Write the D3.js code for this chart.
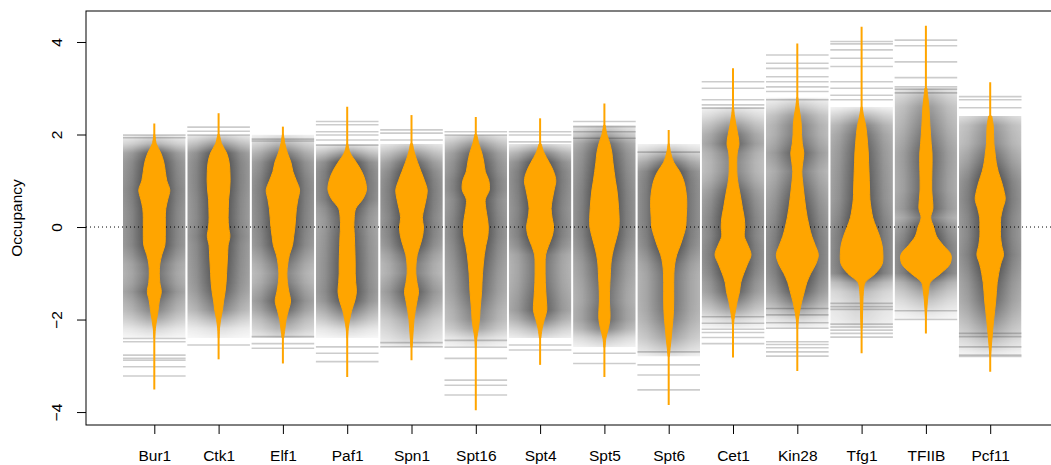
<!DOCTYPE html>
<html lang="en">
<head>
<meta charset="UTF-8">
<script src="https://cdn.jsdelivr.net/npm/d3@7"></script>
<title>Occupancy beanplot</title>
<style>
  body { margin: 0; background: #fff; }
  svg { display: block; font-family: "Liberation Sans", Arial, sans-serif; }
</style>
</head>
<body>
<svg width="1051" height="465"></svg>
<script>
// categories on the x axis
const categories = ['Bur1', 'Ctk1', 'Elf1', 'Paf1', 'Spn1', 'Spt16', 'Spt4', 'Spt5', 'Spt6', 'Cet1', 'Kin28', 'Tfg1', 'TFIIB', 'Pcf11'];
const yTicks = [-4, -2, 0, 2, 4];
const overallMean = 0;

// density of each bean, sampled every 0.2 from densityStart upwards
const gridStep = 0.2;
const densityStart = [-2.4, -2.4, -2.4, -2.4, -2.6, -2.6, -2.4, -2.6, -2.8, -2.2, -2.2, -2.2, -2.0, -2.8];
const densBur1  = [0.3, 1, 2.3, 3.8, 5, 7, 5.5, 5, 5.5, 7.5, 10.5, 11, 11, 11, 11.5, 13.5, 15.5, 12.5, 11, 9.5, 6.5, 2, 0.5];
const densCtk1  = [0.3, 0.8, 2, 3.8, 5, 6.5, 7.5, 8, 8.5, 9, 9.5, 11.3, 10, 9.5, 9.7, 10, 11, 11.5, 11.3, 10.5, 8, 3, 0.8];
const densElf1  = [0.8, 2, 3.2, 5.5, 7.7, 6, 4.5, 4, 4.8, 6.5, 9.5, 10.8, 12, 12.7, 13.5, 15, 16.7, 13.5, 10, 8, 4.5, 2, 0.5];
const densPaf1  = [0.3, 1, 2.5, 4.5, 7.5, 9.2, 8.5, 8, 8, 7.8, 7.5, 7.2, 6.7, 7, 8.5, 15.5, 19.2, 18, 14.5, 9, 3, 0.5];
const densSpn1  = [0.5, 1.2, 1.8, 2.5, 3.8, 5.5, 7, 5.5, 4.3, 4.5, 5.7, 8.5, 11, 12, 10.8, 12.5, 14.5, 15.7, 13, 9.5, 6, 3, 1];
const densSpt16 = [0.4, 1, 2.5, 3.7, 4.2, 5, 5.8, 6.2, 6.7, 7.5, 8.5, 10, 12, 12.5, 11.5, 10, 9.5, 13.5, 13, 9.5, 8, 6, 3, 1];
const densSpt4  = [0.7, 2, 4.2, 6.7, 6.3, 5.7, 5.2, 5, 5, 5.5, 8.5, 12, 13.5, 12, 11, 12.2, 14, 15.7, 13.5, 9, 4, 1];
const densSpt5  = [0.5, 1.5, 3.8, 5.5, 5.5, 5, 5.1, 5.5, 6, 6.5, 7.8, 10, 12.5, 14.5, 14.7, 14.2, 13.5, 12.5, 11, 9.7, 8.5, 7.5, 5.5, 2.5, 0.8];
const densSpt6  = [0.6, 1.5, 2.5, 3.3, 4.2, 4.8, 5, 5, 5, 5.2, 6, 8, 11.5, 14.5, 17, 17.5, 18, 18, 17, 15, 11, 5, 2, 0.5];
const densCet1  = [0.3, 1, 2.5, 4.2, 6.5, 7.8, 10.8, 14.5, 18, 15, 11.3, 11.8, 11.2, 9.5, 8, 6.3, 4.6, 3.8, 3.7, 4.2, 6, 4.8, 3, 1.5, 0.5];
const densKin28 = [0.3, 1, 2.5, 4.5, 7, 9.5, 13.5, 18.5, 21, 18, 14.5, 12, 10, 8.5, 7.3, 6.2, 5.2, 4.5, 5.5, 6.5, 5, 4.2, 4, 3, 1.5, 0.5];
const densTfg1  = [0.4, 0.8, 1, 1.3, 1.8, 3.5, 14, 20.5, 21.3, 20.5, 18, 14.5, 11.2, 9.5, 8.3, 8, 7.7, 7.4, 7, 6.7, 6, 5.2, 4, 2, 0.5];
const densTFIIB = [0.3, 0.8, 1.5, 2.5, 4.3, 15, 24, 25, 17.5, 10.6, 7.8, 4.8, 7, 6.5, 5.8, 5.8, 6, 6.2, 6.1, 5.3, 4.6, 4, 3.5, 3, 2, 1];
const densPcf11 = [0.3, 1, 1.8, 2.6, 3.5, 4.5, 5.5, 6.2, 7, 8.5, 10.5, 13.3, 11.5, 10.3, 10.3, 10.5, 12.5, 15, 13.5, 11, 8, 6, 4.8, 3.7, 3.4, 3, 1.5];
const beanDensity = [densBur1, densCtk1, densElf1, densPaf1, densSpn1, densSpt16, densSpt4, densSpt5, densSpt6, densCet1, densKin28, densTfg1, densTFIIB, densPcf11];

// range of each group
const dataMin = [-3.51, -2.86, -2.95, -3.24, -2.88, -3.96, -2.98, -3.24, -3.85, -2.82, -3.11, -2.73, -2.30, -3.13];
const dataMax = [2.24, 2.46, 2.17, 2.60, 2.42, 2.38, 2.35, 2.67, 2.10, 3.43, 3.97, 4.33, 4.35, 3.13];

// single observations out in the tails
const tailBur1  = [1.99, 1.93, -2.41, -2.48, -2.77, -2.84, -2.88, -3.02, -3.22];
const tailCtk1  = [2.16, 2.07, 1.99, -2.55];
const tailElf1  = [1.9, 1.86, -2.37, -2.52, -2.62];
const tailPaf1  = [2.28, 2.21, 2.06, 1.99, 1.88, 1.77, -2.59, -2.73, -2.91];
const tailSpn1  = [2.10, 2.03, 1.88, -2.5, -2.59];
const tailSpt16 = [2.06, 1.99, -2.45, -2.6, -2.84, -3.31, -3.42, -3.63];
const tailSpt4  = [2.06, 1.99, 1.84, -2.55, -2.66];
const tailSpt5  = [2.28, 2.17, 2.06, 1.92, -2.73, -2.95];
const tailSpt6  = [1.62, -2.7, -2.98, -3.2, -3.52];
const tailCet1  = [3.14, 3.0, 2.75, 2.64, 2.57, -1.94, -2.08, -2.21, -2.28, -2.39, -2.52];
const tailKin28 = [3.72, 3.54, 3.43, 3.25, 3.14, 3.03, 2.93, 2.75, -1.76, -1.90, -2.07, -2.19, -2.48, -2.54, -2.61, -2.70, -2.79];
const tailTfg1  = [4.01, 3.96, 3.83, 3.65, 3.47, 3.14, 3.0, 2.85, 2.75, -1.65, -1.72, -1.78, -2.10, -2.16, -2.23, -2.30, -2.38];
const tailTFIIB = [4.04, 3.92, 3.57, 3.23, 3.03, 2.98, 2.90, -1.81, -2.0];
const tailPcf11 = [2.82, 2.75, 2.58, -2.30, -2.37, -2.59, -2.77, -2.80];
const tailLines = [tailBur1, tailCtk1, tailElf1, tailPaf1, tailSpn1, tailSpt16, tailSpt4, tailSpt5, tailSpt6, tailCet1, tailKin28, tailTfg1, tailTFIIB, tailPcf11];

const svg = d3.select('svg');
const box = { left: 86, top: 11, right: 1058, bottom: 425 };
const fontSize = '15.5px';

const x = d3.scalePoint().domain(categories).range([154.3, 990.2]);
const y = d3.scaleLinear().domain([-4.28, 4.67]).range([box.bottom, box.top]);
const half = x.step() * 0.487;          // beanline half length
const w = d3.scaleLinear().domain([0, 26]).range([0, 26]);

// overall line
svg.append('line')
  .attr('x1', box.left).attr('x2', box.right)
  .attr('y1', y(overallMean)).attr('y2', y(overallMean))
  .attr('stroke', '#000').attr('stroke-dasharray', '1,3');

const defs = svg.append('defs');

// beanlines fade towards the ends of the bean
const fade = defs.append('linearGradient').attr('id', 'hfade')
  .attr('x1', 0).attr('x2', 1).attr('y1', 0).attr('y2', 0);
[[0, '#8c8c8c'], [0.15, '#a8a8a8'], [0.3, '#d8d8d8'], [0.4, '#f8f8f8'], [0.5, '#fff'],
 [0.6, '#f8f8f8'], [0.7, '#d8d8d8'], [0.85, '#a8a8a8'], [1, '#8c8c8c']].forEach(s => {
  fade.append('stop').attr('offset', s[0]).attr('stop-color', s[1]);
});
defs.append('mask').attr('id', 'beanMask')
  .attr('maskUnits', 'objectBoundingBox')
  .attr('maskContentUnits', 'objectBoundingBox')
  .append('rect')
  .attr('x', 0).attr('y', 0).attr('width', 1).attr('height', 1)
  .attr('fill', 'url(#hfade)');

const beans = categories.map((c, i) => {
  const lo = densityStart[i];
  const vals = beanDensity[i];
  const hi = lo + gridStep * (vals.length - 1);
  const pts = vals.map((d, k) => ({ v: lo + gridStep * k, d: d }));
  return { name: c, i: i, lo: lo, hi: hi, pts: pts, cx: x(c) };
});

// vertical shading from the density
beans.forEach(b => {
  const g = defs.append('linearGradient')
    .attr('id', 'shade' + b.i)
    .attr('gradientUnits', 'userSpaceOnUse')
    .attr('x1', 0).attr('x2', 0)
    .attr('y1', y(b.hi)).attr('y2', y(b.lo));
  b.pts.slice().reverse().forEach(p => {
    g.append('stop')
      .attr('offset', (b.hi - p.v) / (b.hi - b.lo))
      .attr('stop-color', '#000')
      .attr('stop-opacity', 1 - Math.exp(-p.d / 4.5));
  });
});

const lineG = svg.append('g');
lineG.append('g').selectAll('rect')
  .data(beans)
  .enter()
  .append('rect')
  .attr('x', d => d.cx - half)
  .attr('width', half * 2)
  .attr('y', d => y(d.hi))
  .attr('height', d => y(d.lo) - y(d.hi))
  .attr('fill', d => `url(#shade${d.i})`)
  .attr('mask', 'url(#beanMask)')
  .attr('opacity', 0.8);

// tail observations
beans.forEach(b => {
  lineG.append('g').selectAll('line')
    .data(tailLines[b.i])
    .enter()
    .append('line')
    .attr('x1', b.cx - half).attr('x2', b.cx + half)
    .attr('y1', d => y(d)).attr('y2', d => y(d))
    .attr('stroke', '#000')
    .attr('stroke-opacity', 0.2)
    .attr('stroke-width', 1.6);
});

// beans
const beanG = svg.append('g');
beanG.selectAll('line')
  .data(beans)
  .enter()
  .append('line')
  .attr('x1', d => d.cx).attr('x2', d => d.cx)
  .attr('y1', d => y(dataMax[d.i])).attr('y2', d => y(dataMin[d.i]))
  .attr('stroke', 'orange')
  .attr('stroke-width', 2);

beans.forEach(b => {
  const area = d3.area()
    .curve(d3.curveCatmullRom)
    .y(p => y(p.v))
    .x0(p => b.cx - w(p.d))
    .x1(p => b.cx + w(p.d));
  beanG.append('path')
    .attr('d', area(b.pts))
    .attr('fill', 'orange')
    .attr('stroke', 'orange')
    .attr('stroke-width', 1);
});

// axes
const yAxis = d3.axisLeft(y).tickValues(yTicks).tickSize(9);
const gy = svg.append('g')
  .attr('transform', `translate(${box.left},0)`)
  .call(yAxis);
gy.select('.domain').remove();
gy.selectAll('.tick line').attr('stroke', '#000');
gy.selectAll('.tick text')
  .attr('transform', 'rotate(-90)')
  .attr('x', 0).attr('y', -24).attr('dy', 0)
  .attr('text-anchor', 'middle')
  .attr('fill', '#000')
  .style('font-size', fontSize)
  .style('font-family', '"Liberation Sans", Arial, sans-serif');

const xAxis = d3.axisBottom(x).tickSize(9);
const gx = svg.append('g')
  .attr('transform', `translate(0,${box.bottom})`)
  .call(xAxis);
gx.select('.domain').remove();
gx.selectAll('.tick line').attr('stroke', '#000');
gx.selectAll('.tick text')
  .attr('y', 36).attr('dy', 0)
  .attr('fill', '#000')
  .style('font-size', fontSize)
  .style('font-family', '"Liberation Sans", Arial, sans-serif');

// frame
svg.append('rect')
  .attr('x', box.left).attr('y', box.top)
  .attr('width', box.right - box.left).attr('height', box.bottom - box.top)
  .attr('fill', 'none').attr('stroke', '#000');

svg.append('text')
  .attr('transform', `translate(22,${(box.top + box.bottom) / 2}) rotate(-90)`)
  .attr('text-anchor', 'middle')
  .style('font-size', fontSize)
  .text('Occupancy');
</script>
</body>
</html>
